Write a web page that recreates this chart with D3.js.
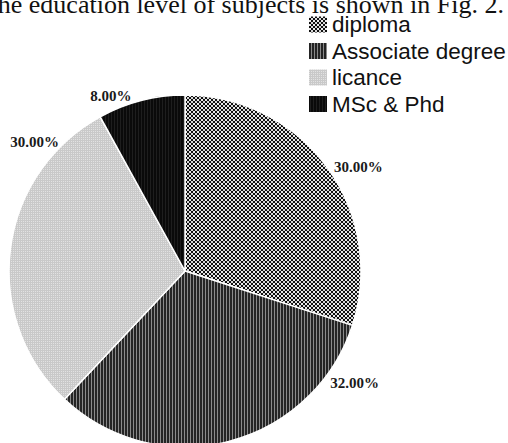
<!DOCTYPE html>
<html>
<head>
<meta charset="utf-8">
<script src="https://cdn.jsdelivr.net/npm/d3@7"></script>
<style>
  html, body { margin: 0; padding: 0; background: #fff; }
  svg { display: block; }
</style>
</head>
<body>
<svg id="chart" width="508" height="443"></svg>
<script>
// ---- data ----
const categories = ["diploma", "Associate degree", "licance", "MSc & Phd"];
const values = [30, 32, 30, 8];
const valueLabels = ["30.00%", "32.00%", "30.00%", "8.00%"];
const captionText = "The education level of subjects is shown in Fig. 2.";

// ---- layout ----
const W = 508, H = 443;
const cx = 185, cy = 271, R = 176;
// label placement (polar, degrees clockwise from 12 o'clock, distance from centre)
const labelPlacement = [
  { a: 58.9, r: 202.5 },
  { a: 123.3, r: 203 },
  { a: 310.6, r: 198 },
  { a: 337.1, r: 190.5 }
];

const svg = d3.select("#chart");
const defs = svg.append("defs");

// patterns
function pat(id, w, h, bg, rects) {
  const p = defs.append("pattern").attr("id", id)
    .attr("patternUnits", "userSpaceOnUse")
    .attr("width", w).attr("height", h);
  p.append("rect").attr("width", w).attr("height", h).attr("fill", bg);
  rects.forEach(r => p.append("rect").attr("x", r[0]).attr("y", r[1])
    .attr("width", r[2]).attr("height", r[3]).attr("fill", r[4]));
}
pat("p0", 4, 4, "#101010", [[0, 0, 2, 2, "#ececec"], [2, 2, 2, 2, "#d8d8d8"]]);
pat("p1", 3, 3, "#242424", [[2, 0, 1, 3, "#8a8a8a"]]);
pat("p2", 2, 2, "#c9c9c9", [[0, 0, 1, 1, "#e2e2e2"]]);
pat("p3", 3, 3, "#0a0a0a", [[1, 0, 1, 3, "#1e1e1e"]]);
const fills = categories.map((c, i) => `url(#p${i})`);
const color = d3.scaleOrdinal().domain(categories).range(fills);

// caption (clipped at top as in the reference)
svg.append("text")
  .attr("x", 504).attr("y", 13)
  .attr("text-anchor", "end")
  .attr("font-family", "'Liberation Serif', 'Times New Roman', serif")
  .attr("font-size", 26)
  .attr("fill", "#111")
  .text(captionText);

// pie
const pie = d3.pie().sort(null).value(d => d.v);
const arcs = pie(categories.map((c, i) => ({ c, v: values[i], label: valueLabels[i] })));
const arc = d3.arc().innerRadius(0).outerRadius(R);

const g = svg.append("g").attr("transform", `translate(${cx},${cy})`);
g.selectAll("path.slice").data(arcs).enter().append("path")
  .attr("class", "slice")
  .attr("d", arc)
  .attr("fill", d => color(d.data.c))
  .attr("stroke", "#fff")
  .attr("stroke-width", 1.5)
  .attr("stroke-linejoin", "round");

// value labels
g.selectAll("text.lbl").data(arcs).enter().append("text")
  .attr("class", "lbl")
  .attr("x", (d, i) => labelPlacement[i].r * Math.sin(labelPlacement[i].a * Math.PI / 180))
  .attr("y", (d, i) => -labelPlacement[i].r * Math.cos(labelPlacement[i].a * Math.PI / 180))
  .attr("dy", "0.35em")
  .attr("text-anchor", "middle")
  .attr("font-family", "'Liberation Serif', 'Times New Roman', serif")
  .attr("font-weight", "bold")
  .attr("font-size", 15)
  .attr("fill", "#1a1a1a")
  .text(d => d.data.label);

// legend
const legY = d3.scalePoint().domain(categories).range([32, 111.5]);
const leg = svg.append("g");
const items = leg.selectAll("g").data(categories).enter().append("g")
  .attr("transform", d => `translate(309,${legY(d)})`);
items.append("rect")
  .attr("x", 0).attr("y", -15.5)
  .attr("width", 18).attr("height", 16)
  .attr("fill", d => color(d));
items.append("text")
  .attr("x", 23).attr("y", 0)
  .attr("font-family", "'Liberation Sans', Arial, sans-serif")
  .attr("font-size", 22.5)
  .attr("fill", "#111")
  .text(d => d);
</script>
</body>
</html>
